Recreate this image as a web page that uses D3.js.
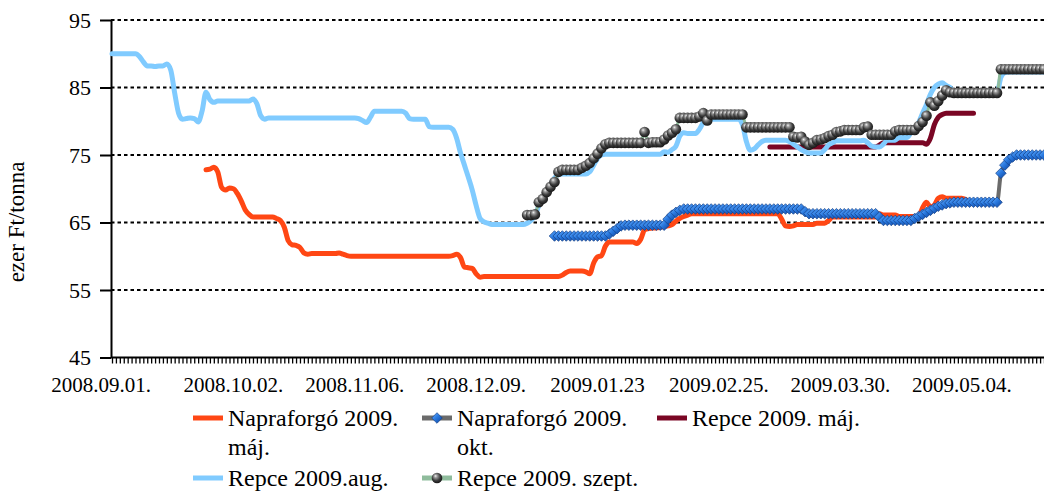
<!DOCTYPE html>
<html>
<head>
<meta charset="utf-8">
<script src="https://cdn.jsdelivr.net/npm/d3@7"></script>
<style>
  body { margin: 0; background: #fff; }
</style>
</head>
<body>
<svg id="chart" width="1044" height="495"></svg>
<script>
/* CONSTANTS */
const width = 1044,
  height = 495,
  margin = { top: 20, bottom: 137.5, left: 112, right: 0 },
  serifFont = "\"Liberation Serif\"";

/* DATA (one value per trading day, category index) */
const nCategories = 239;
const tickIdx = [0, 31, 62, 93, 124, 155, 186, 217];
const tickLabels = ["2008.09.01.", "2008.10.02.", "2008.11.06.", "2008.12.09.",
  "2009.01.23", "2009.02.25.", "2009.03.30.", "2009.05.04."];
const yTicks = [45, 55, 65, 75, 85, 95];
const gridValues = [55, 65, 75, 85, 95];

const seriesNames = ["Napraforgó 2009. máj.", "Napraforgó 2009. okt.", "Repce 2009. máj.",
  "Repce 2009.aug.", "Repce 2009. szept."];

// Napraforgó 2009. máj. (from index 24)
const napMajStart = 24;
const napMaj = [
  72.8, 72.9, 73.2, 72.5, 70.2, 69.8, 70.1, 70.0, 69.3, 68.2,
  66.9, 66.2, 65.8, 65.8, 65.8, 65.8, 65.8, 65.8, 65.6, 65.3,
  64.3, 62.3, 61.7, 61.6, 61.3, 60.5, 60.3, 60.4, 60.4, 60.4,
  60.4, 60.4, 60.4, 60.4, 60.5, 60.3, 60.1, 60.0, 60.0, 60.0,
  60.0, 60.0, 60.0, 60.0, 60.0, 60.0, 60.0, 60.0, 60.0, 60.0,
  60.0, 60.0, 60.0, 60.0, 60.0, 60.0, 60.0, 60.0, 60.0, 60.0,
  60.0, 60.0, 60.0, 60.1, 60.3, 59.8, 58.4, 58.3, 58.2, 57.4,
  56.9, 57.0, 57.0, 57.0, 57.0, 57.0, 57.0, 57.0, 57.0, 57.0,
  57.0, 57.0, 57.0, 57.0, 57.0, 57.0, 57.0, 57.0, 57.0, 57.0,
  57.0, 57.2, 57.6, 57.8, 57.8, 57.8, 57.8, 57.7, 57.4, 59.0,
  59.9, 60.1, 61.5, 62.1, 62.1, 62.1, 62.1, 62.1, 62.1, 62.1,
  61.9, 62.5, 63.9, 64.1, 64.2, 64.2, 64.3, 64.4, 64.5, 64.7,
  65.2, 65.6, 65.9, 66.1, 66.3, 66.3, 66.3, 66.3, 66.3, 66.3,
  66.3, 66.3, 66.3, 66.3, 66.3, 66.3, 66.3, 66.3, 66.3, 66.3,
  66.3, 66.3, 66.3, 66.3, 66.3, 66.3, 66.3, 65.5, 64.5, 64.4,
  64.5, 64.7, 64.7, 64.7, 64.7, 64.7, 64.9, 64.9, 64.9, 65.3,
  65.8, 65.8, 65.8, 65.8, 65.8, 65.8, 65.8, 65.8, 65.8, 65.8,
  65.8, 65.8, 66.3, 66.1, 66.1, 66.1, 66.1, 65.9, 65.9, 65.9,
  65.9, 65.9, 65.9, 67.2, 68.0, 67.3, 67.6, 68.6, 68.8, 68.6,
  68.6, 68.6, 68.6, 68.6, 68.4
];

// Napraforgó 2009. okt. (from index 113)
const napOktStart = 113;
const napOkt = [
  63.0, 63.0, 63.0, 63.0, 63.0, 63.0, 63.0, 63.0, 63.0, 63.0,
  63.0, 63.0, 63.0, 63.0, 63.3, 63.7, 64.1, 64.5, 64.6, 64.6,
  64.6, 64.6, 64.6, 64.6, 64.6, 64.6, 64.6, 64.6, 64.6, 65.5,
  66.1, 66.5, 66.8, 67.0, 67.0, 67.0, 67.0, 67.0, 67.0, 67.0,
  67.0, 67.0, 67.0, 67.0, 67.0, 67.0, 67.0, 67.0, 67.0, 67.0,
  67.0, 67.0, 67.0, 67.0, 67.0, 67.0, 67.0, 67.0, 67.0, 67.0,
  67.0, 67.0, 67.0, 67.0, 66.6, 66.3, 66.3, 66.3, 66.3, 66.3,
  66.3, 66.3, 66.3, 66.3, 66.3, 66.3, 66.3, 66.3, 66.3, 66.3,
  66.3, 66.3, 66.3, 65.8, 65.3, 65.3, 65.3, 65.3, 65.3, 65.3,
  65.3, 65.3, 65.6, 65.9, 66.2, 66.5, 66.8, 67.1, 67.4, 67.6,
  67.8, 67.9, 68.0, 68.0, 68.0, 68.0, 68.0, 68.0, 68.0, 68.0,
  68.0, 68.0, 68.0, 68.0, 72.3, 73.5, 74.3, 74.7, 75.0, 75.0,
  75.0, 75.0, 75.0, 75.0, 75.0, 75.0
];

// Repce 2009. máj. (from index 168)
const repMajStart = 168;
const repMaj = [
  76.2, 76.2, 76.2, 76.2, 76.2, 76.2, 76.2, 76.2, 76.2, 76.2,
  76.2, 76.2, 76.2, 76.2, 76.2, 76.2, 76.2, 76.2, 76.2, 76.2,
  76.2, 76.2, 76.2, 76.2, 76.2, 76.2, 76.2, 76.2, 76.5, 76.8,
  76.8, 76.8, 76.8, 76.8, 76.8, 76.8, 76.8, 76.8, 76.8, 76.8,
  76.6, 77.5, 79.5, 80.6, 81.0, 81.2, 81.2, 81.2, 81.2, 81.2,
  81.2, 81.2, 81.2
];

// Repce 2009.aug. (from index 0)
const repAugStart = 0;
const repAug = [
  90.0, 90.0, 90.0, 90.0, 90.0, 90.0, 90.0, 89.6, 88.8, 88.2,
  88.2, 88.1, 88.2, 88.2, 88.5, 87.6, 84.2, 81.2, 80.3, 80.4,
  80.5, 80.4, 79.9, 81.5, 84.3, 83.2, 82.8, 83.0, 83.0, 83.0,
  83.0, 83.0, 83.0, 83.0, 83.0, 83.0, 83.3, 82.6, 80.8, 80.3,
  80.5, 80.5, 80.5, 80.5, 80.5, 80.5, 80.5, 80.5, 80.5, 80.5,
  80.5, 80.5, 80.5, 80.5, 80.5, 80.5, 80.5, 80.5, 80.5, 80.5,
  80.5, 80.5, 80.5, 80.4, 80.1, 79.8, 80.6, 81.5, 81.5, 81.5,
  81.5, 81.5, 81.5, 81.5, 81.5, 81.2, 80.4, 80.3, 80.3, 80.3,
  80.3, 79.2, 79.1, 79.1, 79.1, 79.1, 79.1, 78.8, 77.5, 75.3,
  73.5, 71.7, 69.8, 67.5, 65.6, 65.1, 64.9, 64.7, 64.7, 64.7,
  64.7, 64.7, 64.7, 64.7, 64.7, 64.7, 64.9, 65.3, 66.0, 67.5,
  68.8, 69.6, 70.6, 71.6, 72.1, 72.2, 72.2, 72.2, 72.2, 72.2,
  72.2, 72.2, 72.5, 73.5, 74.5, 75.0, 75.1, 75.1, 75.1, 75.1,
  75.1, 75.1, 75.1, 75.1, 75.1, 75.1, 75.1, 75.1, 75.1, 75.1,
  75.1, 75.5, 75.4, 75.8, 76.3, 77.8, 78.3, 78.2, 78.2, 78.2,
  78.8, 79.8, 80.2, 80.3, 80.3, 80.3, 80.3, 80.3, 80.3, 80.3,
  80.3, 79.5, 77.0, 75.7, 75.9, 76.5, 77.0, 77.2, 77.2, 77.2,
  77.2, 77.2, 77.2, 77.0, 76.6, 76.2, 75.8, 75.5, 75.3, 75.3,
  75.3, 75.3, 75.8, 76.5, 76.8, 77.1, 77.1, 77.1, 77.1, 77.1,
  77.1, 77.1, 77.2, 76.8, 76.3, 76.2, 76.2, 76.6, 77.2, 77.2,
  77.2, 77.6, 77.6, 77.6, 78.3, 78.8, 79.8, 81.2, 82.5, 84.0,
  85.0, 85.5, 85.7, 85.3, 85.0, 84.3, 84.3, 84.3, 84.3, 84.3,
  84.3, 84.3, 84.3, 84.3, 84.3, 84.3, 84.3, 86.5, 87.2, 87.3,
  87.3, 87.3, 87.3, 87.3, 87.3, 87.3, 87.3, 87.3, 87.3
];

// Repce 2009. szept. (from index 106)
const repSzeptStart = 106;
const repSzept = [
  66.1, 66.1, 66.2, 68.0, 68.5, 69.5, 70.3, 71.0, 72.5, 72.8,
  72.8, 72.8, 72.8, 72.8, 73.1, 73.4, 73.8, 74.5, 75.2, 76.0,
  76.6, 76.8, 76.8, 76.8, 76.8, 76.8, 76.8, 76.8, 76.8, 76.8,
  78.4, 76.8, 76.9, 76.9, 76.9, 77.3, 77.9, 78.3, 78.8, 80.5,
  80.5, 80.5, 80.5, 80.5, 80.7, 81.2, 80.1, 81.0, 81.0, 81.0,
  81.0, 81.0, 81.0, 81.0, 81.0, 81.0, 79.1, 79.1, 79.1, 79.1,
  79.1, 79.1, 79.1, 79.1, 79.1, 79.1, 79.1, 79.1, 77.7, 77.6,
  77.7, 77.0, 76.5, 76.8, 77.2, 77.3, 77.5, 77.8, 78.0, 78.4,
  78.5, 78.7, 78.7, 78.7, 78.7, 78.7, 79.1, 79.2, 78.0, 78.0,
  78.0, 78.0, 78.0, 78.0, 78.5, 78.7, 78.7, 78.7, 78.7, 78.7,
  79.3, 79.9, 80.8, 82.8, 82.3, 83.0, 83.8, 84.6, 84.3, 84.2,
  84.2, 84.2, 84.2, 84.2, 84.2, 84.2, 84.2, 84.2, 84.2, 84.2,
  84.2, 87.7, 87.7, 87.7, 87.7, 87.7, 87.7, 87.7, 87.7, 87.7,
  87.7, 87.7, 87.7
];

/* SERIES TABLE */
const toPoints = (start, values) => values.map((v, k) => ({ i: start + k, v }));
const series = [
  { name: seriesNames[0], points: toPoints(napMajStart, napMaj), color: "#ff4714", width: 5, marker: null },
  { name: seriesNames[1], points: toPoints(napOktStart, napOkt), color: "#6b6b6b", width: 4, marker: "diamond" },
  { name: seriesNames[2], points: toPoints(repMajStart, repMaj), color: "#7a0624", width: 5, marker: null },
  { name: seriesNames[3], points: toPoints(repAugStart, repAug), color: "#80cbff", width: 5, marker: null },
  { name: seriesNames[4], points: toPoints(repSzeptStart, repSzept), color: "#8fbc9c", width: 3, marker: "sphere" }
];

/* SVG */
const svg = d3.select("#chart");

const defs = svg.append("defs");
const sph = defs.append("radialGradient").attr("id", "sphere")
  .attr("cx", "45%").attr("cy", "40%").attr("r", "60%").attr("fx", "35%").attr("fy", "30%");
sph.append("stop").attr("offset", "0%").attr("stop-color", "#f4f4f4");
sph.append("stop").attr("offset", "25%").attr("stop-color", "#9a9a9a");
sph.append("stop").attr("offset", "65%").attr("stop-color", "#3c3c3c");
sph.append("stop").attr("offset", "100%").attr("stop-color", "#161616");

const dia = defs.append("linearGradient").attr("id", "diamond")
  .attr("x1", "0%").attr("y1", "0%").attr("x2", "100%").attr("y2", "100%");
dia.append("stop").attr("offset", "0%").attr("stop-color", "#6fb4ff");
dia.append("stop").attr("offset", "45%").attr("stop-color", "#2a7ae0");
dia.append("stop").attr("offset", "100%").attr("stop-color", "#0b3f98");

// SCALES
const xScale = d3.scaleLinear()
  .domain([0, nCategories - 1])
  .range([margin.left, width - margin.right]);

const yScale = d3.scaleLinear()
  .domain([45, 95])
  .range([height - margin.bottom, margin.top]);

// GRID
svg.append("g").attr("class", "grid")
  .selectAll("line")
  .data(gridValues)
  .join("line")
  .attr("x1", margin.left - 1)
  .attr("x2", width)
  .attr("y1", d => yScale(d))
  .attr("y2", d => yScale(d))
  .attr("stroke", "#000")
  .attr("stroke-width", 2)
  .attr("stroke-dasharray", "3.5,3");

// X AXIS (a tick for every category)
const xAxis = svg.append("g")
  .attr("class", "x-axis")
  .attr("transform", `translate(0,${yScale(45)})`)
  .call(d3.axisBottom(xScale).tickValues(d3.range(nCategories)).tickSize(6).tickSizeOuter(0).tickFormat(""));
xAxis.select(".domain").attr("stroke-width", 2).attr("d", `M${margin.left - 1},0H${width}`);
xAxis.selectAll(".tick line").attr("stroke-width", 1.3);

svg.append("g").attr("class", "x-labels")
  .selectAll("text")
  .data(tickIdx)
  .join("text")
  .attr("x", (d, k) => xScale(d) + (k === 0 ? -11 : 0))
  .attr("y", 392)
  .attr("text-anchor", "middle")
  .style("font-family", serifFont)
  .style("font-size", "21px")
  .attr("fill", "#000")
  .text((d, k) => tickLabels[k]);

// Y AXIS
const yAxis = svg.append("g")
  .attr("class", "y-axis")
  .attr("transform", `translate(${margin.left - 1},0)`)
  .call(d3.axisLeft(yScale).tickValues(yTicks).tickSize(11).tickPadding(9).tickSizeOuter(0));
yAxis.select(".domain").attr("stroke-width", 2);
yAxis.selectAll(".tick line").attr("stroke-width", 2);
yAxis.selectAll(".tick text")
  .style("font-family", serifFont)
  .style("font-size", "22px");

svg.append("text")
  .attr("transform", `translate(24,222) rotate(-90)`)
  .attr("text-anchor", "middle")
  .style("font-family", serifFont)
  .style("font-size", "23px")
  .text("ezer Ft/tonna");

// LINES
const lineFunc = d3.line()
  .x(d => xScale(d.i))
  .y(d => yScale(d.v))
  .curve(d3.curveMonotoneX);

const diamondPath = "M0,-5.3L5.3,0L0,5.3L-5.3,0Z";

series.forEach(s => {
  svg.append("path")
    .datum(s.points)
    .attr("fill", "none")
    .attr("stroke", s.color)
    .attr("stroke-width", s.width)
    .attr("stroke-linejoin", "round")
    .attr("stroke-linecap", "round")
    .attr("d", lineFunc);

  if (s.marker === "diamond") {
    svg.append("g").selectAll("path")
      .data(s.points)
      .join("path")
      .attr("d", diamondPath)
      .attr("transform", d => `translate(${xScale(d.i)},${yScale(d.v)})`)
      .attr("fill", "url(#diamond)")
      .attr("stroke", "#123f86")
      .attr("stroke-width", 0.7);
  } else if (s.marker === "sphere") {
    svg.append("g").selectAll("circle")
      .data(s.points)
      .join("circle")
      .attr("cx", d => xScale(d.i))
      .attr("cy", d => yScale(d.v))
      .attr("r", 5.3)
      .attr("fill", "url(#sphere)");
  }
});

// LEGEND
const legendPos = [
  { x: 193, y: 418 }, { x: 422, y: 418 }, { x: 657, y: 418 },
  { x: 193, y: 478 }, { x: 422, y: 478 }
];
const legendLines = [
  ["Napraforgó 2009.", "máj."], ["Napraforgó 2009.", "okt."], ["Repce 2009. máj."],
  ["Repce 2009.aug."], ["Repce 2009. szept."]
];

const legend = svg.append("g").attr("class", "legend")
  .selectAll("g")
  .data(series)
  .join("g")
  .attr("transform", (d, k) => `translate(${legendPos[k].x},${legendPos[k].y})`);

legend.append("line")
  .attr("x1", 0).attr("x2", 30)
  .attr("stroke", d => d.color)
  .attr("stroke-width", 5);

legend.filter(d => d.marker === "diamond")
  .append("path")
  .attr("d", diamondPath)
  .attr("transform", "translate(15,0)")
  .attr("fill", "url(#diamond)")
  .attr("stroke", "#123f86")
  .attr("stroke-width", 0.7);

legend.filter(d => d.marker === "sphere")
  .append("circle")
  .attr("cx", 15).attr("r", 5.3)
  .attr("fill", "url(#sphere)");

legend.append("text")
  .attr("x", 35)
  .attr("y", 8)
  .style("font-family", serifFont)
  .style("font-size", "24px")
  .selectAll("tspan")
  .data((d, k) => legendLines[k])
  .join("tspan")
  .attr("x", 35)
  .attr("dy", (t, j) => j === 0 ? 0 : 29)
  .text(t => t);
</script>
</body>
</html>
